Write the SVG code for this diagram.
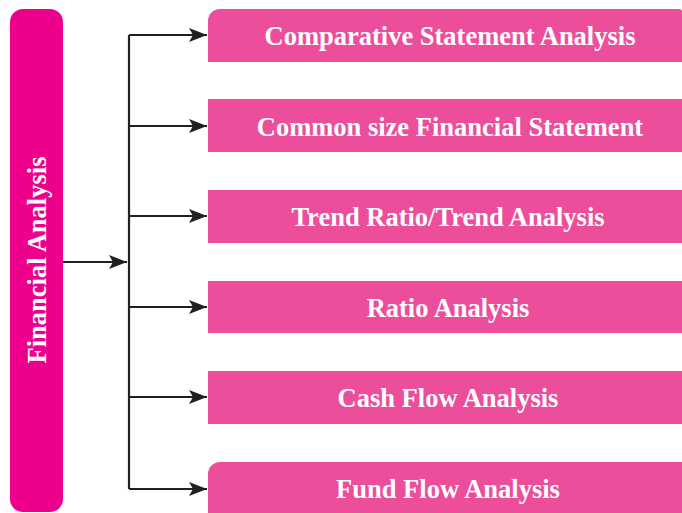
<svg xmlns="http://www.w3.org/2000/svg" width="682" height="513" viewBox="0 0 682 513">
<defs>
<style>
.bx{fill:#EC4E9C}
.tx{fill:#fff;font-family:"Liberation Serif","Times New Roman",serif;font-weight:bold;font-size:26.5px;text-anchor:middle}
.ln{stroke:#231F20;stroke-width:2.2;fill:none}
</style>
<marker id="ah" markerWidth="18" markerHeight="14" refX="18" refY="7" orient="auto" markerUnits="userSpaceOnUse">
<path d="M0,0 L18,7 L0,14 L4,7 Z" fill="#231F20"/>
</marker>
</defs>
<rect width="682" height="513" fill="#fff"/>
<g id="financial-analysis">
<rect x="10" y="9" width="53" height="503" rx="13" fill="#EC008C"/>
<text class="tx" transform="translate(46,260) rotate(-90)">Financial Analysis</text>
</g>
<g id="connectors">
<line class="ln" x1="129" y1="35" x2="129" y2="489"/>
<line class="ln" x1="63" y1="262" x2="127" y2="262" marker-end="url(#ah)"/>
<line class="ln" x1="129" y1="35" x2="207" y2="35" marker-end="url(#ah)"/>
<line class="ln" x1="129" y1="126" x2="207" y2="126" marker-end="url(#ah)"/>
<line class="ln" x1="129" y1="216" x2="207" y2="216" marker-end="url(#ah)"/>
<line class="ln" x1="129" y1="307" x2="207" y2="307" marker-end="url(#ah)"/>
<line class="ln" x1="129" y1="397" x2="207" y2="397" marker-end="url(#ah)"/>
<line class="ln" x1="129" y1="489" x2="207" y2="489" marker-end="url(#ah)"/>
</g>
<g id="n1">
<path class="bx" d="M208,62 V21 A12,12 0 0 1 220,9 H679 A3,3 0 0 1 682,12 V62 Z"/>
<text class="tx" x="450" y="45">Comparative Statement Analysis</text>
</g>
<g id="n2">
<rect class="bx" x="208" y="99" width="474" height="53"/>
<text class="tx" x="450" y="136">Common size Financial Statement</text>
</g>
<g id="n3">
<rect class="bx" x="208" y="190" width="474" height="53"/>
<text class="tx" x="448" y="226">Trend Ratio/Trend Analysis</text>
</g>
<g id="n4">
<rect class="bx" x="208" y="281" width="474" height="52"/>
<text class="tx" x="448" y="317">Ratio Analysis</text>
</g>
<g id="n5">
<rect class="bx" x="208" y="371" width="474" height="53"/>
<text class="tx" x="448" y="407">Cash Flow Analysis</text>
</g>
<g id="n6">
<path class="bx" d="M208,513 V474 A12,12 0 0 1 220,462 H682 V513 Z"/>
<text class="tx" x="448" y="498">Fund Flow Analysis</text>
</g>
</svg>
